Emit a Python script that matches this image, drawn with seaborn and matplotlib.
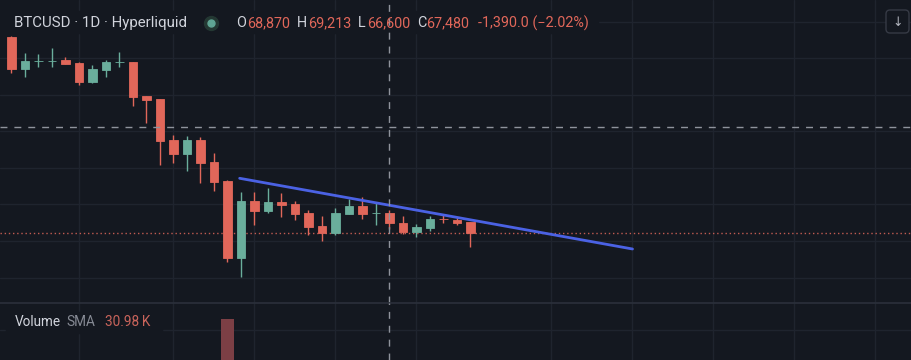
import numpy as np
import pandas as pd
import seaborn as sns
import matplotlib.pyplot as plt
from matplotlib.patches import Rectangle, FancyBboxPatch
from matplotlib.lines import Line2D
from matplotlib.transforms import IdentityTransform

# daily candles, BTCUSD 1D
opens  = [92920, 88510, 89630, 89630, 89740, 89330, 86730, 88410, 89420, 89470,
          84820, 84410, 78810, 76900, 78810, 75810, 73250, 62730, 70480, 69150,
          70340, 70070, 68880, 67060, 66150, 68740, 69800, 68790, 68870, 67510,
          66240, 66830, 68030, 67880, 67650]
highs  = [93020, 90740, 90560, 91340, 90110, 89510, 89060, 89740, 90790, 89520,
          84850, 84450, 79490, 79360, 79260, 77080, 73350, 71750, 71750, 72210,
          71530, 70480, 69250, 68430, 69520, 70750, 71070, 70210, 69213, 68430,
          67300, 68430, 68660, 68330, 67660]
lows   = [88000, 87460, 88740, 88740, 89180, 86320, 86640, 87460, 88820, 83460,
          81090, 75400, 75710, 74620, 72980, 71840, 62190, 60060, 67200, 68880,
          68250, 67880, 65790, 65010, 65830, 68700, 67980, 67200, 66600, 65930,
          65600, 66380, 67510, 67200, 64240]
closes = [88510, 89600, 89650, 89650, 89230, 86770, 88510, 89470, 89440, 84730,
          84320, 78720, 76900, 78810, 75670, 73110, 62730, 70480, 69150, 70340,
          69970, 68740, 66930, 66150, 68880, 69800, 68740, 68800, 67480, 66240,
          66930, 67980, 68010, 67510, 66150]
volumes = [28000, 31000, 22000, 20000, 18000, 30000, 27000, 24000, 19000, 41000,
           36000, 52000, 44000, 38000, 40000, 47000, 110000, 68000, 35000, 29000,
           24000, 21000, 30000, 27000, 26000, 20000, 19000, 18000, 24000, 22000,
           17000, 16000, 14000, 15000, 25000]

trend_x = [16.9, 46.0]
trend_y = [73580, 63920]
cross_day = 28
cross_price = 80630
grid_days = [5, 12, 18, 24, 30, 40, 46, 52, 58, 64]
grid_prices = [60000, 65000, 70000, 75000, 80000, 85000, 90000, 95000]

BG = "#141820"
GRID = "#1f242e"
UP = "#6aae9c"
DOWN = "#e1675a"
VOLC = "#7c3f45"
TXT = "#d1d4dc"
CROSS = "#8f939c"

sns.set_theme(style="dark", rc={"figure.facecolor": BG, "axes.facecolor": BG,
                                "axes.edgecolor": BG, "grid.color": GRID})
plt.rcParams["font.family"] = ["Roboto", "DejaVu Sans"]

fig = plt.figure(figsize=(9.12, 3.6), dpi=100)
ax = fig.add_axes([0, 56.7 / 360, 1, 303.3 / 360])
axv = fig.add_axes([0, 0, 1, 56.7 / 360])

df = pd.DataFrame({"o": opens, "h": highs, "l": lows, "c": closes, "v": volumes})
df["day"] = np.arange(len(df))
col = np.where(df.c >= df.o, UP, DOWN)

# candles
ax.vlines(df.day, df.l, df.h, colors=col, lw=1, zorder=3)
ax.bar(df.day, (df.c - df.o).abs(), bottom=df[["o", "c"]].min(axis=1),
       width=0.65, color=col, edgecolor=col, linewidth=0.6, zorder=4)

# trend line
sns.lineplot(x=trend_x, y=trend_y, ax=ax, color="#4b62e4", lw=2, zorder=5)

# last price line and crosshair
ax.axhline(closes[-1], color=DOWN, lw=1, ls=(0, (1, 2)), alpha=0.85, zorder=2)
ax.axhline(cross_price, color=CROSS, lw=1, ls=(0, (5, 5)), zorder=6)
ax.axvline(cross_day, color=CROSS, lw=1, ls=(0, (5, 5)), zorder=6)

ax.set_xlim(-11.5 / 13.5, (912 - 11.5) / 13.5)
ax.set_ylim(56500, 97940)
ax.set_xticks(grid_days)
ax.set_yticks(grid_prices)
ax.grid(True, color=GRID, lw=1)
ax.set_axisbelow(True)
ax.tick_params(labelbottom=False, labelleft=False, length=0)
for s in ax.spines.values():
    s.set_visible(False)

# header background hides the top grid line behind the legend
ax.add_patch(Rectangle((0, 1 - 33 / 303.3), 598 / 912, 22 / 303.3,
                       transform=ax.transAxes, color=BG, zorder=2.5))

# volume pane
sns.barplot(x=df.day, y=df.v, native_scale=True, ax=axv, color=VOLC,
            width=0.89, saturation=1, linewidth=0, zorder=3)
axv.axvline(cross_day, color=CROSS, lw=1, ls=(0, (5, 5)), zorder=6)
axv.set_xlim(ax.get_xlim())
axv.set_ylim(75000, 123400)
axv.set_xticks(grid_days)
axv.set_yticks([100350])
axv.grid(True, color=GRID, lw=1)
axv.set_axisbelow(True)
axv.set(xlabel="", ylabel="")
axv.tick_params(labelbottom=False, labelleft=False, length=0)
for s in axv.spines.values():
    s.set_visible(False)
axv.spines["top"].set_visible(True)
axv.spines["top"].set_color("#2a2f3a")
axv.add_patch(Rectangle((6 / 912, (360 - 333) / 56.7), 156 / 912, 21 / 56.7,
                        transform=axv.transAxes, color=BG, zorder=2.5))


def px(x, y):
    return x / 912, 1 - y / 360


fs = 10.4
fig.text(*px(14, 23), "BTCUSD · 1D · Hyperliquid", color=TXT, fontsize=10.8, va="center")
fig.add_artist(Line2D([211 / 912], [1 - 23 / 360], marker="o", ms=10,
                      color="#243833", transform=fig.transFigure))
fig.add_artist(Line2D([211 / 912], [1 - 23 / 360], marker="o", ms=5,
                      color="#5fa594", transform=fig.transFigure))
labels = [("O", 236.5, "68,870", 247), ("H", 297, "69,213", 308),
          ("L", 357.5, "66,600", 366.8), ("C", 417, "67,480", 426)]
for k, kx, val, vx in labels:
    fig.text(*px(kx, 23), k, color=TXT, fontsize=fs, va="center")
    fig.text(*px(vx, 23), val, color=DOWN, fontsize=fs, va="center")
fig.text(*px(478, 23), "-1,390.0 (−2.02%)", color=DOWN, fontsize=fs, va="center")

fig.text(*px(15, 322), "Volume", color=TXT, fontsize=9.8, va="center")
fig.text(*px(66, 322), "SMA", color="#868a94", fontsize=9.8, va="center")
fig.text(*px(105, 322), "30.98\u2009K", color="#c9645b", fontsize=9.8, va="center")

# download button
fig.add_artist(FancyBboxPatch((886, 360 - 33), 23, 23,
                              boxstyle="round,pad=0,rounding_size=4",
                              fc=BG, ec="#363a45", lw=1,
                              transform=IdentityTransform()))
fig.text(*px(897.5, 22), "↓", color="#b2b5be", fontsize=9, ha="center", va="center",
         family="DejaVu Sans")

fig.savefig("out.png", dpi=100, facecolor=BG)
